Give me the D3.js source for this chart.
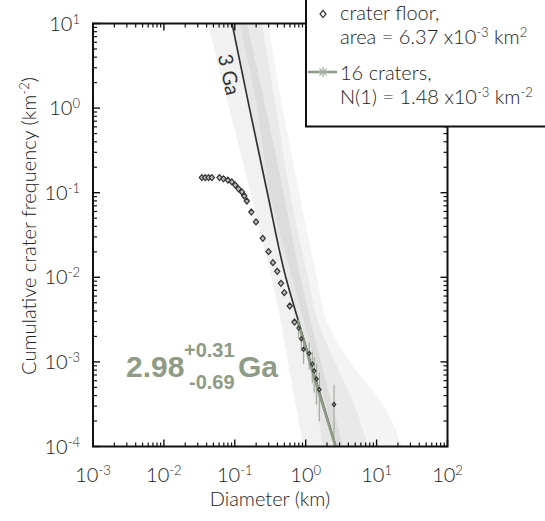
<!DOCTYPE html>
<html>
<head>
<meta charset="utf-8">
<script src="https://cdn.jsdelivr.net/npm/d3@7/dist/d3.min.js"></script>
<style>
  html, body { margin: 0; padding: 0; background: #fff; }
  svg { display: block; }
  text { font-family: Lato, "Open Sans", sans-serif; font-weight: 300; fill: #222; }
</style>
</head>
<body>
<svg id="chart" width="545" height="521"></svg>
<script>
// ---- axes ----
const xDecades = [1e-3, 1e-2, 1e-1, 1e0, 1e1, 1e2];
const yDecades = [1e-4, 1e-3, 1e-2, 1e-1, 1e0, 1e1];
const xTickExp = ["-3", "-2", "-1", "0", "1", "2"];
const yTickExp = ["-4", "-3", "-2", "-1", "0", "1"];

// ---- cumulative crater counts on the crater floor (diameter km, N per km²) ----
const floorD = [0.0343, 0.0382, 0.0426, 0.0475, 0.0608, 0.0692, 0.080, 0.091, 0.1014, 0.1127,
                0.126, 0.136, 0.148, 0.171, 0.199, 0.248, 0.299, 0.345, 0.397, 0.448,
                0.499, 0.596, 0.695];
const floorN = [0.151, 0.151, 0.151, 0.151, 0.151, 0.146, 0.141, 0.134, 0.123, 0.111,
                0.102, 0.0914, 0.0798, 0.0591, 0.0451, 0.0289, 0.0201, 0.0149, 0.01178, 0.00849,
                0.00658, 0.00458, 0.00296];

// ---- bins inside the fit range, with Poisson error bars ----
const fitD   = [0.794, 0.867, 0.933, 1.12, 1.24, 1.32, 1.42, 1.56, 2.51];
const fitN   = [2.51e-3, 1.88e-3, 1.41e-3, 1.26e-3, 9.42e-4, 7.85e-4, 6.28e-4, 4.71e-4, 3.14e-4];
const fitLo  = [1.88e-3, 1.34e-3, 9.42e-4, 8.12e-4, 5.58e-4, 4.34e-4, 3.14e-4, 1.99e-4, 9.2e-5];
const fitHi  = [3.14e-3, 2.43e-3, 1.88e-3, 1.70e-3, 1.33e-3, 1.14e-3, 9.42e-4, 7.43e-4, 5.36e-4];

// ---- reference isochron (3 Ga) and fitted isochron ----
const isoN  = [10, 1, 0.1, 0.01, 3e-3, 1e-3, 3e-4, 1e-4];
const isoD  = [0.0914, 0.161, 0.288, 0.524, 0.791, 1.17, 1.80, 2.67];
const fitIsoN = [3e-3, 1.48e-3, 1e-3, 3e-4, 1e-4];
const fitIsoD = [0.76, 1.0, 1.14, 1.76, 2.63];

// ---- shaded uncertainty envelopes: left and right edge diameters at isoN levels ----
const bandALeft  = [0.0419, 0.0828, 0.167, 0.327, 0.446, 0.562, 0.728, 0.916];
const bandARight = [0.149, 0.273, 0.488, 0.841, 1.17, 1.64, 2.39, 3.36];
const bandBLeft  = [0.0914, 0.164, 0.275, 0.562, 0.778, 1.08, 1.40, 1.75];
const bandBRight = [0.242, 0.381, 0.601, 1.08, 1.49, 2.59, 4.95, 7.57];
const bandCLeft  = [0.118, 0.206, 0.313, 0.641, 0.946, 1.35, 1.93, 2.59];
const bandCRight = [0.294, 0.474, 0.809, 1.44, 2.00, 4.22, 12.7, 22.8];

const svg = d3.select("#chart");
const x = d3.scaleLog().domain([1e-3, 1e2]).range([93, 447.5]);
const y = d3.scaleLog().domain([1e-4, 10]).range([446.5, 23.5]);
const [x0, x1] = x.range();
const [y1, y0] = y.range();

svg.append("defs").append("clipPath").attr("id", "plotClip")
  .append("rect").attr("x", x0).attr("y", y0).attr("width", x1 - x0).attr("height", y1 - y0);

const plot = svg.append("g").attr("clip-path", "url(#plotClip)");

// envelopes
const bands = [
  [bandALeft, bandARight, 0.055],
  [bandBLeft, bandBRight, 0.045],
  [bandCLeft, bandCRight, 0.045]
];
const edge = d3.line().curve(d3.curveMonotoneY).x(d => x(d[0])).y(d => y(d[1]));
bands.forEach(([l, r, op]) => {
  const left = l.map((d, i) => [d, isoN[i]]);
  const right = r.map((d, i) => [d, isoN[i]]).reverse();
  const leftPath = edge(left);
  const rightPath = edge(right).replace(/^M/, "L");
  plot.append("path").attr("d", leftPath + rightPath + "Z")
    .attr("fill", "#000").attr("fill-opacity", op).attr("stroke", "none");
});

// 3 Ga isochron
plot.append("path")
  .datum(isoD.map((d, i) => [d, isoN[i]]))
  .attr("d", edge)
  .attr("fill", "none").attr("stroke", "#333").attr("stroke-width", 1.7);

// error bars
const green = "#8e9b86";
fitD.forEach((d, i) => {
  plot.append("line")
    .attr("x1", x(d)).attr("x2", x(d))
    .attr("y1", y(fitLo[i])).attr("y2", y(fitHi[i]))
    .attr("stroke", "#a9b0a3").attr("stroke-width", 1.3);
});

// fitted isochron
plot.append("path")
  .datum(fitIsoD.map((d, i) => [d, fitIsoN[i]]))
  .attr("d", edge)
  .attr("fill", "none").attr("stroke", green).attr("stroke-width", 2.6);

// diamonds
function diamond(g, cx, cy, w, h, fill) {
  g.append("path")
    .attr("d", `M${cx},${cy - h}L${cx + w},${cy}L${cx},${cy + h}L${cx - w},${cy}Z`)
    .attr("fill", fill || "#bbb").attr("stroke", "#333").attr("stroke-width", 1.2);
}
floorD.forEach((d, i) => diamond(plot, x(d), y(floorN[i]), 2.6, 3.0));
fitD.forEach((d, i) => diamond(plot, x(d), y(fitN[i]), 1.7, 2.0));

// ---- frame, ticks ----
const frame = svg.append("g").attr("stroke", "#111").attr("fill", "none");
function minorVals(decades) {
  const out = [];
  for (let k = 0; k < decades.length - 1; k++)
    for (let m = 2; m <= 9; m++) out.push(decades[k] * m);
  return out;
}
const xMinor = minorVals(xDecades), yMinor = minorVals(yDecades);
const legX = 306, legY = 126.5;
// bottom
xDecades.forEach(v => frame.append("line").attr("x1", x(v)).attr("x2", x(v)).attr("y1", y1).attr("y2", y1 - 7).attr("stroke-width", 1.4));
xMinor.forEach(v => frame.append("line").attr("x1", x(v)).attr("x2", x(v)).attr("y1", y1).attr("y2", y1 - 4).attr("stroke-width", 1.2));
// top (only the part left of the legend)
xDecades.filter(v => x(v) < legX).forEach(v => frame.append("line").attr("x1", x(v)).attr("x2", x(v)).attr("y1", y0).attr("y2", y0 + 7).attr("stroke-width", 1.4));
xMinor.filter(v => x(v) < legX).forEach(v => frame.append("line").attr("x1", x(v)).attr("x2", x(v)).attr("y1", y0).attr("y2", y0 + 4).attr("stroke-width", 1.2));
// left
yDecades.forEach(v => frame.append("line").attr("y1", y(v)).attr("y2", y(v)).attr("x1", x0).attr("x2", x0 + 7).attr("stroke-width", 1.4));
yMinor.forEach(v => frame.append("line").attr("y1", y(v)).attr("y2", y(v)).attr("x1", x0).attr("x2", x0 + 4).attr("stroke-width", 1.2));
// right (below the legend)
yDecades.filter(v => y(v) > legY).forEach(v => frame.append("line").attr("y1", y(v)).attr("y2", y(v)).attr("x1", x1).attr("x2", x1 - 7).attr("stroke-width", 1.4));
yMinor.filter(v => y(v) > legY).forEach(v => frame.append("line").attr("y1", y(v)).attr("y2", y(v)).attr("x1", x1).attr("x2", x1 - 4).attr("stroke-width", 1.2));
frame.append("rect").attr("x", x0).attr("y", y0).attr("width", x1 - x0).attr("height", y1 - y0).attr("stroke-width", 2);

// ---- legend ----
const leg = svg.append("g");
leg.append("rect").attr("x", legX).attr("y", -5).attr("width", 600).attr("height", legY + 5)
  .attr("fill", "#fff").attr("stroke", "#111").attr("stroke-width", 2);
diamond(leg, 323, 14, 3, 3.6, "#fff");
leg.append("line").attr("x1", 308).attr("x2", 337).attr("y1", 72).attr("y2", 72)
  .attr("stroke", green).attr("stroke-width", 2.6);
[[0, 5], [5, 0], [3.5, 3.5], [3.5, -3.5]].forEach(([dx, dy]) => {
  leg.append("line").attr("x1", 323 - dx).attr("x2", 323 + dx).attr("y1", 72 - dy).attr("y2", 72 + dy)
    .attr("stroke", "#a9b0a3").attr("stroke-width", 1.3);
});
function supText(g, tx, ty, parts, size, anchor) {
  const t = g.append("text").attr("x", tx).attr("y", ty).attr("font-size", size).attr("text-anchor", anchor || "start");
  parts.forEach(([s, sup]) => {
    t.append("tspan").text(s)
      .attr("font-size", sup ? size * 0.65 : size)
      .attr("baseline-shift", sup ? "55%" : null);
  });
  return t;
}
supText(leg, 340, 20, [["crater floor,", 0]], 20);
supText(leg, 340, 44, [["area = 6.37 x10", 0], ["-3", 1], [" km", 0], ["2", 1]], 20);
supText(leg, 340, 80, [["16 craters,", 0]], 20);
supText(leg, 340, 104, [["N(1) = 1.48 x10", 0], ["-3", 1], ["  km", 0], ["-2", 1]], 20);

// ---- tick labels ----
xDecades.forEach((v, i) => supText(svg, x(v), 482, [["10", 0], [xTickExp[i], 1]], 20, "middle"));
yDecades.forEach((v, i) => supText(svg, 80, y(v) + 7, [["10", 0], [yTickExp[i], 1]], 20, "end"));

// ---- axis titles ----
svg.append("text").attr("x", 270).attr("y", 506).attr("text-anchor", "middle").attr("font-size", 20)
  .text("Diameter (km)");
const yt = svg.append("text").attr("transform", "translate(36,226) rotate(-90)")
  .attr("text-anchor", "middle").attr("font-size", 20);
yt.append("tspan").text("Cumulative crater frequency (km");
yt.append("tspan").text("-2").attr("font-size", 13).attr("baseline-shift", "55%");
yt.append("tspan").text(")");

// ---- isochron label ----
svg.append("text").attr("transform", "translate(222,76) rotate(78)")
  .attr("text-anchor", "middle").attr("font-family", "'Liberation Sans', Arial, sans-serif")
  .attr("font-size", 20).style("font-weight", "normal").style("fill", "#333").text("3 Ga");

// ---- model age ----
const age = svg.append("g");
function ageText(tx, ty, size, s) {
  age.append("text").attr("x", tx).attr("y", ty).attr("font-size", size)
    .style("font-family", "'Liberation Sans', Arial, sans-serif").style("font-weight", "bold")
    .style("fill", green).text(s);
}
ageText(126, 377, 30, "2.98");
ageText(184, 357, 20, "+0.31");
ageText(189, 389, 20, "-0.69");
ageText(238, 377, 30, "Ga");
</script>
</body>
</html>
